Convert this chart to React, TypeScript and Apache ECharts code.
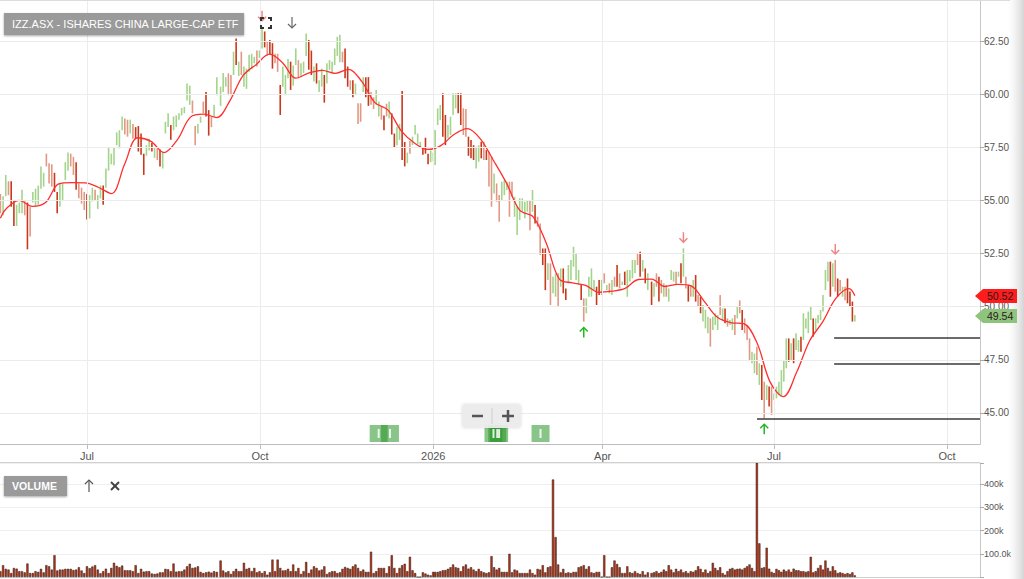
import React, { useEffect, useRef } from 'react';
import * as echarts from 'echarts';

// ---------- DATA ----------
// Daily price bars [low, high] by period; kinds: g = up (light green), r = down (salmon), d = strong down (dark red)
const barsA: [number, number][] = [
  [54.4,55.3],[54.3,55.2],[55.2,56.2],[55.25,55.9],[54.7,55.9],[53.8,55.0],[53.8,54.8],[54.4,54.9],[54.4,55.5],[54.3,55.0],
  [52.7,54.9],[53.3,54.7],[54.9,55.4],[54.7,55.55],[54.8,55.7],[55.55,56.6],[55.65,56.3],[56.6,57.2],[55.8,56.75],[55.65,56.7],
  [55.4,56.3],[54.4,55.4],[54.7,55.8],[55.0,55.8],[55.96,56.8],[56.4,57.25],[56.6,57.2],[56.2,57.05],[55.5,56.8],[55.1,55.8],
  [54.85,55.6],[54.55,55.4],[54.1,55.3],[54.15,55.25],[54.95,55.6],[55.0,55.5],[54.6,55.25],[55.1,55.7],[54.8,55.7],[55.6,56.5],
  [56.4,57.5],[56.7,57.2],[56.65,57.5],[57.6,58.2],[57.45,58.3],[58.3,58.95],[58.1,58.85],[58.0,58.8],[58.15,58.8],[57.9,58.6],
  [57.9,58.45],[57.3,58.5],[57.15,58.15],[56.2,57.2],[57.1,57.6],[57.35,57.9],[57.3,57.7],[57.0,57.5],[56.9,57.45],[56.6,57.4],
  [56.5,57.3],[58.15,58.7],[58.45,59.1],[57.85,58.55],[58.3,58.95],[58.45,59.0],[58.8,59.1],[59.0,59.35],[59.1,59.4],[59.7,60.5],
  [59.5,60.4],[59.1,59.7],[57.6,58.5],[58.15,58.6],[58.65,58.95],[59.1,59.65],[58.95,60.1],[58.05,59.25],[58.45,58.95],[58.95,59.5],
  [59.95,60.8],
];
const kindsA = 'rggrddgggr' + 'drgggggrrr' + 'ddggggrrdr' + 'rrdggrggdg' + 'ggggggrrgr' + 'ddddggdgrd' + 'gggdgggggg' + 'grrggrddrg' + 'g';
const volA = [25,51,35,32,17,39,36,25,25,20, 58,17,17,25,22,35,20,51,46,32, 94,28,32,32,35,35,35,30,32,42, 28,17,46,38,45,51,32,16,25,36,
  17,39,61,48,42,49,29,29,29,25, 51,17,35,23,25,25,15,13,15,20, 20,35,33,25,58,23,25,25,32,46, 57,39,41,46,22,17,20,23,19,25, 22];

const barsB: [number, number][] = [
  [59.45,60.35],[60.1,61.0],[60.35,60.8],[59.95,60.98],[59.95,60.9],[60.9,62.0],[61.37,62.62],[60.85,61.53],[60.9,62.0],[60.35,61.3],
  [60.25,61.2],[61.05,61.85],[61.2,61.9],[61.45,61.75],[61.3,62.05],[61.7,62.05],[62.15,63.17],[62.2,62.95],[61.8,62.5],[61.85,62.55],
  [61.2,62.4],[61.45,61.9],[61.05,61.9],[59.02,60.43],[60.35,61.3],[59.95,60.9],[60.75,61.65],[60.2,61.53],[60.4,61.35],[61.37,62.15],
  [60.75,61.6],[60.82,61.45],[61.0,61.53],[61.8,62.85],[61.15,62.55],[60.9,62.05],[60.6,61.3],[60.5,61.45],[60.1,60.65],[60.35,61.2],
  [59.6,60.9],[60.5,61.45],[61.15,61.6],[61.0,61.53],[61.37,62.15],[61.8,62.7],[61.5,62.8],[61.5,62.0],[60.75,62.15],[60.35,61.3],
  [60.2,60.65],[59.85,60.65],[59.95,60.5],[58.6,59.57],[58.7,59.57],[60.1,60.8],[59.85,60.8],[59.45,60.8],[59.5,60.1],[59.3,59.85],
  [59.5,60.2],[58.95,59.65],[58.8,59.4],[58.3,59.0],[58.95,59.55],[58.85,59.65],[58.1,59.1],[57.5,58.15],[57.6,58.45],[57.85,58.6],
  [56.9,60.15],[56.6,57.75],[56.75,57.25],[57.2,57.8],[57.6,58.0],[58.1,58.55],[57.65,58.15],[57.5,57.75],[57.15,57.5],[57.2,57.95],
  [56.7,57.2],[56.8,57.35],[56.85,57.25],
];
const kindsB = 'gggrrgdgrg' + 'ggggrggdrd' + 'drrdgggdgg' + 'rgggddgdgg' + 'dggggggrdd' + 'rdgrrgddrr' + 'ggrdrgddgg' + 'ddgrggggdd' + 'dgg';
const volB = [71,28,20,25,13,25,35,25,25,61, 35,39,25,39,20,25,17,25,10,20, 75,25,75,39,28,29,35,25,54,25, 39,13,25,65,17,32,46,39,28,32,
  46,13,20,25,25,17,20,35,43,39, 35,46,54,39,25,32,22,22,109,17, 25,39,39,39,17,46,94,39,17,39, 51,57,25,87,29,17,0,0,20,15, 10,7,22];

const barsC: [number, number][] = [
  [56.67,58.31],[58.55,59.33],[58.78,59.49],[58.0,60.04],[57.6,59.02],[57.92,58.55],[58.08,58.94],[59.02,60.04],[59.33,60.04],[59.1,60.04],
  [58.55,60.04],[58.08,59.33],[58.0,59.3],[57.1,58.0],[56.98,57.84],[56.9,57.6],[56.5,57.53],[56.82,57.6],[56.98,57.76],[56.9,57.76],
  [56.9,57.37],[55.65,57.3],[54.7,57.06],[55.33,56.27],[54.94,55.8],[54.0,55.25],[55.02,55.88],[55.25,55.96],[55.49,55.88],[54.23,55.88],
  [55.17,55.88],[54.23,55.17],[53.37,54.7],[54.08,55.1],[54.47,55.1],[54.16,54.94],[54.47,55.02],[53.6,55.02],[54.47,55.49],[53.92,54.78],
  [53.76,54.23],[52.43,53.92],[51.96,52.74],[50.78,52.74],[51.26,52.04],[50.08,52.04],[50.63,51.41],[50.47,51.57],[50.0,51.57],[50.94,51.8],
  [50.63,51.8],[50.31,50.86],[51.1,51.96],[51.26,52.2],[51.88,52.82],[51.26,52.51],[51.02,51.73],[50.31,51.02],[49.3,50.39],[49.69,50.39],
  [50.47,51.41],[50.47,51.8],[50.78,51.26],[50.08,50.94],[50.55,51.26],[50.55,51.26],[51.1,51.57],[50.78,51.02],[50.63,51.1],[50.55,51.26],
  [50.94,51.41],[50.94,51.96],[50.86,51.57],[51.02,51.18],[51.02,51.65],[50.47,51.73],[51.18,51.73],[51.33,52.2],[51.57,52.2],[51.96,52.51],
  [51.41,52.59],[51.65,52.2],[51.1,51.8],[50.78,51.57],
];
const kindsC = 'gggddggggd' + 'drrdddggdr' + 'drrgrrgggr' + 'rggggggrgd' + 'rrddgrggrg' + 'ddgggggdrg' + 'gggddgrgrg' + 'rdrgdggggr' + 'dgdg';
const volC = [22,22,25,29,30,35,42,54,42,39, 25,46,54,36,42,32,25,35,25,20, 17,20,90,42,32,39,22,22,22,100, 20,32,28,17,17,17,17,32,17,10,
  35,32,51,20,42,46,420,172,54,20, 35,17,20,17,22,22,42,46,51,35, 46,20,17,22,22,0,94,0,0,42, 71,56,42,17,17,46,20,17,25,17, 13,25,10,20];

const barsD: [number, number][] = [
  [50.08,51.18],[50.47,51.1],[50.94,51.57],[50.24,51.41],[50.63,51.26],[50.47,51.1],[50.47,51.02],[50.24,50.86],[51.26,51.73],[51.18,51.65],
  [51.02,51.65],[51.41,51.65],[51.1,52.04],[51.41,52.75],[50.86,51.41],[50.24,51.02],[50.47,51.02],[50.47,51.26],[50.24,51.49],[50.0,50.55],
  [49.69,50.47],[49.3,50.08],[48.98,49.85],[48.75,49.53],[48.12,49.45],[48.9,49.53],[49.14,49.69],[48.9,49.61],[49.61,50.55],[49.37,49.92],
  [49.22,49.92],[49.06,49.45],[49.14,49.37],[48.9,49.45],[48.67,49.61],[49.45,50.0],[49.69,50.3],[48.9,49.85],[48.75,49.45],[48.43,49.14],
  [47.49,48.51],[47.34,47.88],[46.87,47.8],[46.79,48.12],[46.32,47.34],[45.61,47.26],[44.75,46.47],[45.61,46.32],[45.3,46.24],[44.9,46.24],
  [45.61,45.92],[45.69,46.24],[45.85,46.47],[45.77,47.02],[46.47,47.49],[47.1,48.51],[47.41,48.51],[47.49,48.28],[47.34,48.51],[47.96,48.75],
  [47.88,48.43],[47.88,48.59],[48.43,49.69],[48.98,49.45],[48.75,49.77],[49.37,50.0],[48.59,49.45],[48.9,49.45],[49.22,49.61],[49.37,49.85],
  [49.77,50.55],[50.78,51.73],[51.18,52.12],[50.47,52.12],[50.94,52.04],[50.71,52.2],[50.47,51.33],[50.71,51.26],[50.47,50.94],[50.3,50.94],
  [50.16,51.33],[50.0,50.71],[49.3,50.24],[49.3,49.61],
];
const kindsD = 'dgrdrgrggg' + 'rgdgrdrgdr' + 'dgggrgggrg' + 'drggrgrdrr' + 'rggrgdrgdr' + 'ggggggdgdg' + 'gdggggdggg' + 'gggdgrdrgr' + 'dddg';
const volD = [17,20,25,17,22,32,25,51,32,20, 35,25,32,20,25,17,25,22,29,46, 35,20,32,17,25,61,39,29,42,17, 10,25,35,39,32,35,36,32,39,46,
  54,39,25,560,145,39,42,126,36,22, 17,35,29,22,32,25,32,22,36,29, 29,25,25,22,25,87,20,25,39,51, 32,71,39,25,46,29,17,20,17,13, 17,13,20,7];

// Period spans (first and last trading date of each block above)
const periods = [
  { start: '2025-05-16', end: '2025-09-08', bars: barsA, kinds: kindsA, vol: volA },
  { start: '2025-09-10', end: '2026-01-01', bars: barsB, kinds: kindsB, vol: volB },
  { start: '2026-01-02', end: '2026-04-25', bars: barsC, kinds: kindsC, vol: volC },
  { start: '2026-04-27', end: '2026-08-13', bars: barsD, kinds: kindsD, vol: volD },
];

// Moving average (red line): first point, weekly Monday values from 2025-05-19, last point
const maFirst: [string, number] = ['2025-05-16', 54.16];
const maWeeklyStart = '2025-05-19';
const maWeekly = [
  54.6,55.0,54.72,54.9,55.78,55.84,55.83,55.62,55.32,56.7,
  57.95,57.78,57.25,57.85,58.92,59.06,58.9,59.7,60.88,61.4,
  61.88,61.47,60.75,61.0,61.12,60.98,61.17,60.6,59.6,59.25,
  58.27,57.7,57.4,57.58,58.1,58.38,57.9,56.88,55.8,54.53,
  54.24,53.0,51.3,51.12,51.0,50.68,50.73,50.86,51.28,51.3,
  50.95,51.05,50.98,50.25,49.5,49.25,49.2,48.3,46.45,45.77,
  46.9,48.4,49.3,50.4,50.85,
];
const maLast: [string, number] = ['2026-08-13', 50.52];

const lastMA = 50.52;
const lastClose = 49.54;

const tickDates = ['2025-07-01', '2025-10-01', '2026-01-01', '2026-04-01', '2026-07-01', '2026-10-01'];
const tickLabels = ['Jul', 'Oct', '2026', 'Apr', 'Jul', 'Oct'];
const priceTicks = [45, 47.5, 50, 52.5, 55, 57.5, 60, 62.5];
const volumeTicks = [100000, 200000, 300000, 400000];

const supportLevels = [
  { from: '2026-08-02', value: 48.54 },
  { from: '2026-08-02', value: 47.3 },
  { from: '2026-06-22', value: 44.75 },
];
const highSignals = ['2025-10-02', '2026-05-14', '2026-08-03'];
const lowSignals = ['2026-03-22', '2026-06-27'];
const eventDates = ['2025-12-03', '2025-12-09', '2026-02-02', '2026-02-04', '2026-02-05', '2026-02-27'];

const TITLE = 'IZZ.ASX - ISHARES CHINA LARGE-CAP ETF';

// ---------- helpers ----------
const DAY = 86400000;
const toT = (s: string) => {
  const [y, m, d] = s.split('-').map(Number);
  return Date.UTC(y, m - 1, d);
};
const KIND_INDEX: Record<string, number> = { g: 0, r: 1, d: 2 };
const KIND_COLORS = ['#a4d48c', '#e29884', '#c8391c'];
const FONT = '"Liberation Sans", Arial, sans-serif';

export default function App() {
  const ref = useRef<HTMLDivElement>(null);

  useEffect(() => {
    document.body.style.margin = '0';
    if (!ref.current) return;
    const chart = echarts.init(ref.current, undefined, { renderer: 'svg' });

    const X_MIN = toT('2025-07-01') - 46.2 * DAY;
    const X_MAX = toT('2025-07-01') + 474.5 * DAY;

    const priceData: number[][] = [];
    const volData: number[][] = [];
    periods.forEach((p) => {
      const t0 = toT(p.start);
      const t1 = toT(p.end);
      const n = p.bars.length;
      p.bars.forEach((b, i) => {
        const t = t0 + (n > 1 ? (i * (t1 - t0)) / (n - 1) : 0);
        priceData.push([t, b[0], b[1], KIND_INDEX[p.kinds[i]] ?? 0]);
        volData.push([t, (p.vol[i] ?? 0) * 1000]);
      });
    });

    const maData: number[][] = [[toT(maFirst[0]), maFirst[1]]];
    const ws = toT(maWeeklyStart);
    maWeekly.forEach((v, i) => maData.push([ws + i * 7 * DAY, v]));
    maData.push([toT(maLast[0]), maLast[1]]);

    const tickTimes = tickDates.map(toT);

    const option: any = {
      animation: false,
      textStyle: { fontFamily: FONT },
      grid: [
        { left: 0, right: 44, top: 0, height: 444 },
        { left: 0, right: 44, top: 463, height: 114 },
      ],
      xAxis: [
        {
          type: 'value', gridIndex: 0, min: X_MIN, max: X_MAX,
          axisLine: { show: true, lineStyle: { color: '#bdbdbd' } },
          axisTick: { show: true, customValues: tickTimes, length: 5, lineStyle: { color: '#bdbdbd' } },
          axisLabel: {
            customValues: tickTimes, color: '#555', fontSize: 11, margin: 6,
            formatter: (v: number) => { const i = tickTimes.indexOf(v); return i >= 0 ? tickLabels[i] : ''; },
          },
          splitLine: { show: false },
        },
        {
          type: 'value', gridIndex: 1, min: X_MIN, max: X_MAX,
          axisLine: { show: true, lineStyle: { color: '#cfcfcf' } },
          axisTick: { show: false }, axisLabel: { show: false }, splitLine: { show: false },
        },
      ],
      yAxis: [
        {
          type: 'value', gridIndex: 0, position: 'right', min: 43.54, max: 64.43,
          axisLine: { show: true, lineStyle: { color: '#c8c8c8' } },
          axisTick: { show: true, customValues: priceTicks, length: 4, lineStyle: { color: '#aaa' } },
          axisLabel: { customValues: priceTicks, color: '#555', fontSize: 10, margin: 4, formatter: (v: number) => v.toFixed(2) },
          splitLine: { show: false },
        },
        {
          type: 'value', gridIndex: 1, position: 'right', min: 0, max: 491000, interval: 100000,
          axisLine: { show: true, lineStyle: { color: '#c8c8c8' } },
          axisTick: { show: true, length: 4, lineStyle: { color: '#aaa' } },
          axisLabel: {
            color: '#555', fontSize: 9, margin: 4,
            formatter: (v: number) => (volumeTicks.includes(v) ? (v === 100000 ? '100.0k' : v / 1000 + 'k') : ''),
          },
          splitLine: { show: true, lineStyle: { color: '#efefef' } },
        },
      ],
      series: [
        {
          // background grid lines of the price panel
          type: 'line', xAxisIndex: 0, yAxisIndex: 0, z: 0, silent: true,
          data: [[X_MIN, 50]], showSymbol: false, lineStyle: { opacity: 0 },
          markLine: {
            silent: true, symbol: 'none', label: { show: false }, animation: false,
            lineStyle: { color: '#ececec', width: 1, type: 'solid' },
            data: [
              ...priceTicks.map((v) => ({ yAxis: v })),
              ...tickTimes.map((t) => ({ xAxis: t })),
            ],
          },
        },
        {
          type: 'custom', name: 'price', xAxisIndex: 0, yAxisIndex: 0, z: 2, clip: true,
          encode: { x: 0, y: [1, 2] },
          data: priceData,
          renderItem: (_params: any, api: any) => {
            const p1 = api.coord([api.value(0), api.value(1)]);
            const p2 = api.coord([api.value(0), api.value(2)]);
            return {
              type: 'line',
              shape: { x1: p1[0], y1: p1[1], x2: p2[0], y2: p2[1] },
              style: { stroke: KIND_COLORS[api.value(3)], lineWidth: 1.6 },
            };
          },
        },
        {
          type: 'line', name: 'MA', xAxisIndex: 0, yAxisIndex: 0, z: 3,
          data: maData, smooth: 0.35, showSymbol: false, silent: true,
          lineStyle: { color: '#ff2e2e', width: 1.3 },
          markLine: {
            silent: true, symbol: 'none', label: { show: false }, animation: false,
            lineStyle: { color: '#3a3a3a', width: 1.6, type: 'solid' },
            data: supportLevels.map((s) => [{ coord: [toT(s.from), s.value] }, { coord: [X_MAX, s.value] }]),
          },
        },
        {
          type: 'bar', name: 'volume', xAxisIndex: 1, yAxisIndex: 1, z: 2,
          data: volData, barWidth: 2.2,
          itemStyle: { color: '#c4300c', borderColor: '#1c1c1c', borderWidth: 0.5 },
        },
      ],
    };

    chart.setOption(option);

    // ---------- overlays positioned through the chart's scales ----------
    const yOf = (v: number) => chart.convertToPixel({ yAxisIndex: 0 }, v) as number;
    const xOf = (t: number) => chart.convertToPixel({ xAxisIndex: 0 }, t) as number;
    const g: any[] = [];

    // frame lines
    g.push({ type: 'line', shape: { x1: 0, y1: 0.5, x2: 1010, y2: 0.5 }, style: { stroke: '#dcdcdc', lineWidth: 1 }, z: 50 });
    g.push({ type: 'line', shape: { x1: 0, y1: 462.5, x2: 980, y2: 462.5 }, style: { stroke: '#d0d0d0', lineWidth: 1 }, z: 50 });
    // right shade
    g.push({
      type: 'rect', shape: { x: 1008, y: 0, width: 16, height: 579 }, z: 40,
      style: { fill: new echarts.graphic.LinearGradient(0, 0, 1, 0, [
        { offset: 0, color: 'rgba(230,230,230,0)' }, { offset: 1, color: 'rgba(205,205,205,0.85)' },
      ]) },
    });

    // title box
    g.push({ type: 'rect', shape: { x: 4, y: 13, width: 240, height: 22 }, z: 60,
      style: { fill: '#9a9a9a', shadowBlur: 2, shadowColor: 'rgba(0,0,0,0.35)', shadowOffsetY: 1 } });
    g.push({ type: 'text', x: 12, y: 24, z: 61, style: { text: TITLE, fill: '#fff', fontSize: 11, fontFamily: FONT, verticalAlign: 'middle' } });
    // fullscreen icon
    const fs = [[[261, 21], [261, 18], [264, 18]], [[268, 18], [271, 18], [271, 21]], [[261, 25], [261, 28], [264, 28]], [[268, 28], [271, 28], [271, 25]]];
    fs.forEach((pts) => g.push({ type: 'polyline', shape: { points: pts }, z: 60, style: { stroke: '#333', lineWidth: 2, fill: 'none' } }));
    // gray download arrow
    g.push({ type: 'line', shape: { x1: 292, y1: 17, x2: 292, y2: 28 }, z: 60, style: { stroke: '#666', lineWidth: 1.2 } });
    g.push({ type: 'polyline', shape: { points: [[288, 24], [292, 28], [296, 24]] }, z: 60, style: { stroke: '#666', lineWidth: 1.2, fill: 'none' } });

    // zoom control
    g.push({ type: 'rect', shape: { x: 462, y: 404, width: 59, height: 24, r: 3 }, z: 60,
      style: { fill: 'rgba(236,236,236,0.95)', shadowBlur: 3, shadowColor: 'rgba(0,0,0,0.15)' } });
    g.push({ type: 'line', shape: { x1: 472, y1: 416, x2: 483, y2: 416 }, z: 61, style: { stroke: '#555', lineWidth: 2.5 } });
    g.push({ type: 'line', shape: { x1: 492, y1: 408, x2: 492, y2: 424 }, z: 61, style: { stroke: '#cfcfcf', lineWidth: 1 } });
    g.push({ type: 'line', shape: { x1: 502, y1: 416, x2: 514, y2: 416 }, z: 61, style: { stroke: '#555', lineWidth: 2.5 } });
    g.push({ type: 'line', shape: { x1: 508, y1: 410, x2: 508, y2: 422 }, z: 61, style: { stroke: '#555', lineWidth: 2.5 } });

    // event markers
    eventDates.forEach((d) => {
      const x = xOf(toT(d));
      g.push({ type: 'rect', shape: { x: x - 9, y: 425, width: 18, height: 17 }, z: 30, style: { fill: 'rgba(40,150,40,0.55)' } });
      g.push({ type: 'rect', shape: { x: x - 1, y: 429, width: 2, height: 9 }, z: 31, style: { fill: 'rgba(255,255,255,0.85)' } });
    });

    // high / low signal arrows
    const findExtreme = (target: number, useHigh: boolean) => {
      let best: number[] | null = null;
      priceData.forEach((r) => {
        if (Math.abs(r[0] - target) <= 3 * DAY) {
          if (!best || (useHigh ? r[2] > best[2] : r[1] < best[1])) best = r;
        }
      });
      return best as number[] | null;
    };
    highSignals.forEach((d) => {
      const r = findExtreme(toT(d), true);
      if (!r) return;
      const [x, y] = chart.convertToPixel({ gridIndex: 0 }, [r[0], r[2]]) as number[];
      const tip = y - 6;
      g.push({ type: 'line', shape: { x1: x, y1: tip - 10, x2: x, y2: tip }, z: 45, style: { stroke: '#f08585', lineWidth: 1.5 } });
      g.push({ type: 'polyline', shape: { points: [[x - 4, tip - 4], [x, tip], [x + 4, tip - 4]] }, z: 45, style: { stroke: '#f08585', lineWidth: 1.5, fill: 'none' } });
    });
    lowSignals.forEach((d) => {
      const r = findExtreme(toT(d), false);
      if (!r) return;
      const [x, y] = chart.convertToPixel({ gridIndex: 0 }, [r[0], r[1]]) as number[];
      const tip = y + 6;
      g.push({ type: 'line', shape: { x1: x, y1: tip, x2: x, y2: tip + 10 }, z: 45, style: { stroke: '#22b822', lineWidth: 1.5 } });
      g.push({ type: 'polyline', shape: { points: [[x - 4, tip + 4], [x, tip], [x + 4, tip + 4]] }, z: 45, style: { stroke: '#22b822', lineWidth: 1.5, fill: 'none' } });
    });

    // last value tags
    const tag = (v: number, fill: string, text: string) => {
      const yc = Math.round(yOf(v));
      const x0 = 975;
      g.push({ type: 'polygon', z: 100, shape: { points: [[x0, yc], [x0 + 8, yc - 7], [x0 + 42, yc - 7], [x0 + 42, yc + 7], [x0 + 8, yc + 7]] }, style: { fill } });
      g.push({ type: 'text', z: 101, x: x0 + 12, y: yc, style: { text, fill: '#2a1a1a', fontSize: 10.5, fontFamily: FONT, verticalAlign: 'middle' } });
    };
    tag(lastMA, '#ff1c1c', lastMA.toFixed(2));
    tag(lastClose, '#8fc47c', lastClose.toFixed(2));

    // volume panel label
    g.push({ type: 'rect', shape: { x: 4, y: 476, width: 63, height: 20 }, z: 60,
      style: { fill: '#9a9a9a', shadowBlur: 2, shadowColor: 'rgba(0,0,0,0.35)', shadowOffsetY: 1 } });
    g.push({ type: 'text', x: 12, y: 486, z: 61, style: { text: 'VOLUME', fill: '#fff', fontSize: 10.5, fontWeight: 'bold', fontFamily: FONT, verticalAlign: 'middle' } });
    g.push({ type: 'line', shape: { x1: 89, y1: 480, x2: 89, y2: 492 }, z: 60, style: { stroke: '#555', lineWidth: 1.2 } });
    g.push({ type: 'polyline', shape: { points: [[85, 484], [89, 480], [93, 484]] }, z: 60, style: { stroke: '#555', lineWidth: 1.2, fill: 'none' } });
    g.push({ type: 'line', shape: { x1: 111, y1: 482, x2: 119, y2: 490 }, z: 60, style: { stroke: '#444', lineWidth: 2 } });
    g.push({ type: 'line', shape: { x1: 119, y1: 482, x2: 111, y2: 490 }, z: 60, style: { stroke: '#444', lineWidth: 2 } });

    chart.setOption({ graphic: { elements: g } });

    return () => chart.dispose();
  }, []);

  return <div ref={ref} style={{ width: 1024, height: 579 }} />;
}
